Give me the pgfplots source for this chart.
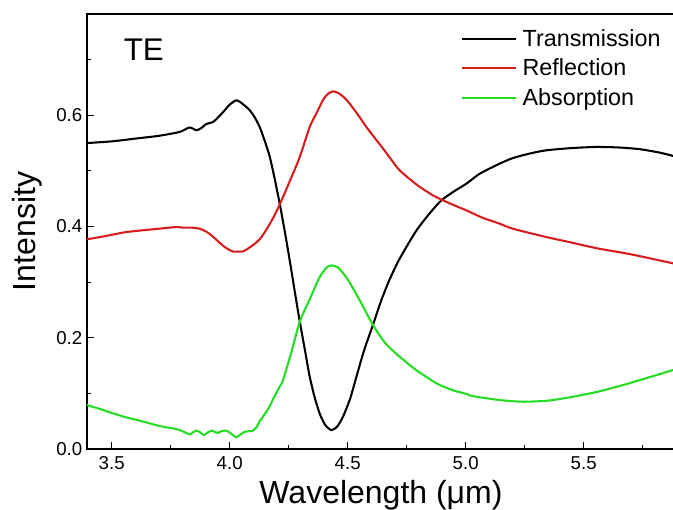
\documentclass[border=0pt]{standalone}
\usepackage{fontspec}
\setmainfont{Liberation Sans}
\usepackage{pgfplots}
\pgfplotsset{compat=1.18}
\definecolor{cT}{RGB}{0,0,0}
\definecolor{cR}{RGB}{214,28,28}
\definecolor{cA}{RGB}{34,221,34}
\begin{document}
\begin{tikzpicture}
\begin{axis}[
  scale only axis,
  width=441pt, height=326.25pt,
  xmin=3.3953, xmax=5.887,
  ymin=0, ymax=0.782,
  xtick={3.5,4.0,4.5,5.0,5.5},
  minor xtick={3.75,4.25,4.75,5.25,5.75},
  ytick={0,0.2,0.4,0.6},
  minor ytick={0.1,0.3,0.5,0.7},
  xticklabels={3.5,4.0,4.5,5.0,5.5},
  yticklabels={0.0,0.2,0.4,0.6},
  xtick pos=lower, ytick pos=left,
  tick align=inside,
  major tick length=5pt, minor tick length=3pt,
  every tick/.style={line width=0.9pt, black},
  axis line style={line width=1.2pt},
  tick label style={font=\fontsize{14}{16}\selectfont},
  xticklabel style={yshift=-2pt},
  /pgf/number format/assume math mode=true,
  xlabel={Wavelength (μm)},
  ylabel={Intensity},
  label style={font=\fontsize{24}{28}\selectfont},
  xlabel style={yshift=-1pt},
  ylabel style={yshift=4pt},
  legend style={at={(rel axis cs:0.635,0.972)}, anchor=north west, draw=none, fill=none,
    font=\fontsize{17.5}{19}\selectfont, row sep=4pt, inner sep=0pt,
    nodes={inner xsep=4pt}},
  legend cell align=left,
  legend image code/.code={\draw[#1, line width=1.5pt] (0pt,0pt) -- (41pt,0pt);},
  every axis plot/.append style={line width=1.55pt, line join=round},
]
\addplot[color=cT, smooth, tension=0.4] coordinates {
(3.395,0.550)(3.50,0.553)(3.60,0.558)(3.70,0.563)(3.788,0.570)(3.83,0.578)(3.859,0.573)(3.88,0.577)
(3.90,0.584)(3.93,0.588)(3.955,0.598)(3.979,0.609)(4.00,0.619)(4.028,0.627)(4.05,0.622)
(4.07,0.615)(4.085,0.609)(4.105,0.597)(4.127,0.579)(4.15,0.552)(4.17,0.525)(4.19,0.487)(4.212,0.441)
(4.233,0.392)(4.254,0.340)(4.275,0.285)(4.297,0.229)(4.32,0.175)(4.339,0.130)(4.36,0.093)(4.381,0.064)(4.405,0.043)
(4.431,0.034)(4.455,0.040)(4.48,0.058)(4.51,0.090)(4.537,0.130)(4.57,0.178)(4.607,0.223)(4.643,0.268)
(4.68,0.307)(4.72,0.342)(4.79,0.392)(4.85,0.425)(4.897,0.447)(4.95,0.463)(5.003,0.477)(5.06,0.495)
(5.144,0.513)(5.2,0.523)(5.27,0.531)(5.342,0.537)(5.45,0.541)(5.554,0.543)(5.65,0.542)(5.737,0.539)
(5.82,0.533)(5.887,0.526)
};
\addlegendentry{Transmission}
\addplot[color=cR, smooth, tension=0.4] coordinates {
(3.395,0.377)(3.45,0.381)(3.50,0.385)(3.562,0.390)(3.65,0.394)(3.70,0.396)(3.774,0.399)(3.80,0.398)
(3.838,0.398)(3.873,0.396)(3.90,0.391)(3.92,0.385)(3.944,0.376)(3.97,0.366)(3.99,0.360)(4.014,0.355)
(4.035,0.355)(4.055,0.355)(4.08,0.361)(4.10,0.367)(4.127,0.377)(4.155,0.394)(4.19,0.420)(4.226,0.453)
(4.26,0.487)(4.297,0.525)(4.339,0.579)(4.367,0.603)(4.395,0.627)(4.415,0.638)(4.438,0.643)
(4.46,0.640)(4.485,0.632)(4.508,0.621)(4.545,0.600)(4.579,0.579)(4.615,0.559)(4.65,0.540)(4.685,0.520)(4.72,0.501)(4.79,0.476)
(4.861,0.456)(4.93,0.442)(5.003,0.429)(5.07,0.416)(5.144,0.405)(5.2,0.396)(5.342,0.381)
(5.45,0.371)(5.554,0.361)(5.7,0.350)(5.887,0.333)
};
\addlegendentry{Reflection}
\addplot[color=cA, smooth, tension=0.4] coordinates {
(3.395,0.079)(3.45,0.072)(3.506,0.064)(3.56,0.057)(3.619,0.051)(3.67,0.045)(3.717,0.040)(3.76,0.037)
(3.788,0.034)(3.81,0.030)(3.83,0.026)(3.845,0.030)(3.859,0.033)(3.875,0.030)(3.89,0.025)(3.905,0.029)
(3.922,0.033)(3.935,0.031)(3.95,0.029)(3.965,0.032)(3.986,0.033)(4.005,0.028)(4.028,0.021)(4.045,0.026)
(4.064,0.031)(4.08,0.032)(4.099,0.033)(4.115,0.040)(4.127,0.050)(4.141,0.058)(4.17,0.077)(4.184,0.090)
(4.212,0.112)(4.226,0.124)(4.26,0.172)(4.297,0.229)(4.34,0.270)(4.38,0.308)(4.41,0.326)(4.43,0.330)
(4.46,0.326)(4.50,0.305)(4.55,0.268)(4.607,0.223)(4.66,0.190)(4.72,0.166)(4.79,0.142)(4.861,0.122)
(4.89,0.115)(4.95,0.105)(5.003,0.099)(5.031,0.095)(5.144,0.088)(5.243,0.085)(5.35,0.087)(5.455,0.094)
(5.56,0.103)(5.667,0.115)(5.77,0.128)(5.887,0.143)
};
\addlegendentry{Absorption}
\node[anchor=base west, font=\fontsize{23.5}{26}\selectfont, inner sep=0pt] at (axis cs:3.55,0.698) {TE};
\coordinate (bl) at (rel axis cs:0,0);
\coordinate (tr) at (rel axis cs:1,1);
\end{axis}
\pgfresetboundingbox
\path ([xshift=-65.25pt,yshift=-45pt]bl) rectangle ([xshift=-1.5pt,yshift=10.5pt]tr);
\end{tikzpicture}
\end{document}
